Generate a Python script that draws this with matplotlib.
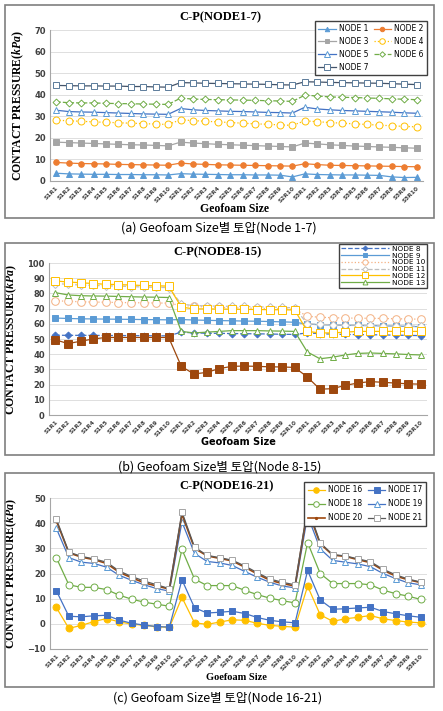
import matplotlib
matplotlib.use('Agg')
import matplotlib.pyplot as plt
from matplotlib.patches import Rectangle

plt.rcParams['font.family'] = ['DejaVu Sans']
plt.rcParams['mathtext.fontset'] = 'custom'
plt.rcParams['mathtext.it'] = 'Liberation Serif:italic:bold'
plt.rcParams['mathtext.rm'] = 'Liberation Serif:bold'

sizes = ['S1R1', 'S1R2', 'S1R3', 'S1R4', 'S1R5', 'S1R6', 'S1R7', 'S1R8', 'S1R9', 'S1R10',
         'S2R1', 'S2R2', 'S2R3', 'S2R4', 'S2R5', 'S2R6', 'S2R7', 'S2R8', 'S2R9', 'S2R10',
         'S3R1', 'S3R2', 'S3R3', 'S3R4', 'S3R5', 'S3R6', 'S3R7', 'S3R8', 'S3R9', 'S3R10']

# (a) nodes 1-7
node1 = [3.6, 3.3, 3.2, 3.1, 3.1, 3.0, 3.0, 2.9, 2.9, 2.8,
         3.4, 3.2, 3.1, 3.0, 2.9, 2.9, 2.8, 2.8, 2.7, 1.9,
         3.3, 3.0, 2.9, 2.8, 2.8, 2.7, 2.6, 1.9, 1.6, 1.7]
node2 = [8.6, 8.3, 8.1, 8.0, 7.9, 7.7, 7.6, 7.5, 7.4, 7.3,
         8.3, 7.9, 7.7, 7.5, 7.4, 7.3, 7.2, 7.1, 7.0, 6.9,
         8.0, 7.6, 7.3, 7.2, 7.1, 7.0, 6.9, 6.8, 6.7, 6.6]
node3 = [18.0, 17.8, 17.6, 17.4, 17.2, 17.0, 16.8, 16.7, 16.5, 16.3,
         18.0, 17.6, 17.3, 17.0, 16.8, 16.6, 16.4, 16.2, 16.0, 15.8,
         17.6, 17.2, 16.8, 16.5, 16.2, 16.0, 15.8, 15.6, 15.4, 15.2]
node4 = [28.2, 27.9, 27.7, 27.4, 27.2, 27.0, 26.8, 26.6, 26.4, 26.2,
         28.4, 28.0, 27.7, 27.4, 27.1, 26.8, 26.5, 26.3, 26.0, 25.8,
         27.9, 27.5, 27.1, 26.8, 26.5, 26.2, 25.9, 25.6, 25.3, 25.1]
node5 = [32.8, 32.2, 32.0, 31.9, 31.7, 31.5, 31.3, 31.1, 31.0, 30.9,
         33.6, 33.0, 32.7, 32.5, 32.3, 32.2, 32.0, 31.8, 31.7, 31.5,
         34.2, 33.4, 33.0, 32.7, 32.5, 32.3, 32.1, 31.9, 31.6, 31.4]
node6 = [36.7, 36.3, 36.2, 36.2, 36.0, 35.9, 35.8, 35.7, 35.6, 35.5,
         38.4, 38.0, 37.8, 37.7, 37.6, 37.5, 37.4, 37.2, 37.1, 36.9,
         39.8, 39.4, 39.0, 38.8, 38.7, 38.5, 38.3, 38.1, 37.9, 37.7]
node7 = [44.3, 44.2, 44.1, 44.1, 44.0, 44.0, 43.8, 43.8, 43.6, 43.5,
         45.6, 45.5, 45.3, 45.2, 45.1, 45.0, 44.9, 44.8, 44.6, 44.5,
         46.0, 45.9, 45.7, 45.6, 45.5, 45.4, 45.3, 45.1, 44.9, 44.7]

# (b) nodes 8-15
node8 = [52.5, 52.4, 52.4, 52.4, 52.3, 52.3, 52.2, 52.2, 52.1, 52.1,
         54.5, 54.0, 53.8, 53.7, 53.6, 53.5, 53.4, 53.3, 53.1, 53.0,
         54.0, 53.5, 53.2, 53.0, 52.9, 52.8, 52.7, 52.5, 52.4, 52.2]
node9 = [63.8, 63.5, 63.3, 63.2, 63.1, 63.0, 62.9, 62.8, 62.7, 62.6,
         62.8, 62.5, 62.3, 62.1, 62.0, 61.8, 61.7, 61.5, 61.3, 61.0,
         59.8, 59.4, 59.2, 59.0, 58.9, 58.8, 58.6, 58.5, 58.3, 58.1]
node10 = [75.2, 74.8, 74.5, 74.3, 74.2, 74.0, 73.9, 73.8, 73.7, 73.6,
          72.0, 71.5, 71.0, 70.8, 70.6, 70.4, 70.2, 70.0, 69.8, 69.6,
          65.0, 64.3, 64.0, 63.8, 63.7, 63.6, 63.5, 63.3, 63.2, 63.0]
node11 = [86.5, 86.0, 85.5, 85.2, 85.0, 84.8, 84.5, 84.2, 84.0, 83.8,
          73.0, 72.0, 71.8, 71.6, 71.5, 71.4, 71.2, 71.0, 70.8, 70.5,
          60.0, 59.6, 59.4, 59.2, 59.0, 58.9, 58.8, 58.6, 58.5, 58.3]
node12 = [88.2, 87.5, 87.0, 86.5, 86.0, 85.8, 85.5, 85.2, 85.0, 84.8,
          71.0, 69.8, 69.8, 69.7, 69.6, 69.5, 69.4, 69.3, 69.2, 69.1,
          55.0, 54.0, 54.0, 54.5, 55.0, 55.0, 55.0, 55.0, 55.0, 55.0]
node13 = [80.5, 79.0, 78.5, 78.3, 78.2, 78.0, 77.8, 77.6, 77.5, 77.3,
          55.0, 54.0, 54.5, 55.0, 55.5, 55.5, 55.5, 55.3, 55.2, 55.0,
          41.5, 37.0, 38.0, 39.5, 40.5, 40.8, 40.5, 40.2, 39.8, 39.5]
node14 = [49.5, 47.0, 48.5, 50.0, 51.0, 51.0, 51.0, 51.0, 51.0, 51.0,
          32.0, 27.0, 28.0, 30.5, 32.0, 32.2, 32.0, 31.7, 31.6, 31.3,
          25.0, 17.0, 17.3, 19.5, 21.0, 22.0, 21.5, 21.0, 20.5, 20.3]

# (c) nodes 16-21
node16 = [6.5, -1.8, -0.6, 0.9, 2.1, 0.8, -0.1, -0.6, -1.1, -1.4,
          10.5, 0.4, -0.2, 0.7, 1.6, 1.4, 0.2, -0.6, -1.0, -1.3,
          15.0, 3.6, 1.0, 2.0, 2.6, 3.3, 2.0, 1.3, 0.7, 0.4]
node17 = [13.2, 3.0, 2.8, 3.2, 3.4, 1.5, 0.2, -0.5, -1.1, -1.3,
          17.5, 6.4, 4.3, 4.6, 5.0, 4.1, 2.5, 1.4, 0.8, 0.4,
          21.2, 9.5, 5.8, 6.0, 6.3, 6.6, 4.9, 4.0, 3.2, 2.6]
node18 = [26.3, 15.5, 14.5, 14.5, 13.6, 11.4, 9.8, 8.6, 7.8, 7.0,
          29.6, 17.8, 15.2, 15.2, 15.2, 13.3, 11.6, 10.2, 9.2, 8.3,
          32.3, 20.0, 16.0, 16.0, 16.0, 15.5, 13.4, 12.0, 11.0, 9.7]
node19 = [38.0, 26.3, 24.5, 24.0, 22.5, 19.3, 17.3, 15.5, 14.0, 13.0,
          40.5, 28.0, 24.8, 24.2, 23.2, 20.8, 18.5, 16.5, 15.0, 14.3,
          43.0, 29.8, 25.2, 24.5, 23.8, 22.7, 20.0, 18.0, 16.3, 15.5]
node20 = [41.0, 28.2, 26.5, 25.5, 24.0, 20.5, 18.3, 16.3, 15.0, 13.8,
          43.5, 30.0, 27.0, 26.0, 25.0, 22.5, 19.8, 17.3, 16.0, 15.0,
          45.5, 31.8, 27.3, 26.8, 25.5, 24.3, 21.3, 19.0, 17.5, 16.4]
node21 = [41.7, 28.5, 26.8, 25.8, 24.5, 21.0, 18.8, 17.0, 15.5, 14.0,
          44.5, 30.5, 27.2, 26.3, 25.3, 23.0, 20.3, 17.8, 16.5, 15.5,
          46.5, 32.2, 27.5, 27.0, 25.8, 24.7, 21.7, 19.5, 17.8, 16.6]

W, H = 443, 711
fig = plt.figure(figsize=(W / 100, H / 100), dpi=100)
fig.patch.set_facecolor('white')

x = list(range(len(sizes)))


def fx(px):
    return px / W


def fy(py):
    return 1 - py / H


def style_axes(ax, ymin, ymax, step):
    ax.set_xlim(-0.5, len(sizes) - 0.5)
    ax.set_ylim(ymin, ymax)
    ax.set_yticks(range(ymin, ymax + 1, step))
    ax.yaxis.grid(True, color='#D9D9D9', linewidth=0.6)
    ax.set_axisbelow(True)
    for s in ['top', 'right']:
        ax.spines[s].set_visible(False)
    ax.spines['left'].set_color('#A6A6A6')
    ax.spines['bottom'].set_color('#A6A6A6')
    ax.tick_params(length=0, pad=3)
    ax.set_xticks(x)
    ax.set_xticklabels(sizes, rotation=45, ha='right', rotation_mode='anchor',
                       fontsize=4.2, fontweight='bold', color='#404040')
    for lab in ax.get_yticklabels():
        lab.set_fontsize(6)
        lab.set_fontweight('bold')
        lab.set_color('#404040')
    ax.set_ylabel(r'CONTACT PRESSURE($\mathit{kPa}$)', family='Liberation Serif',
                  fontweight='bold', fontsize=8.5, labelpad=6)


def plot_node(ax, y, color, marker, ls='-', filled=True, ms=4, label=None, mec=None, lw=0.9):
    ax.plot(x, y, color=color, linestyle=ls, linewidth=lw, marker=marker, markersize=ms,
            markerfacecolor=(mec or color) if filled else 'white',
            markeredgecolor=mec or color, markeredgewidth=0.7, label=label)


# panel borders
for top, bot in [(5, 218), (243, 455), (473, 687)]:
    fig.patches.append(Rectangle((fx(5), fy(bot)), fx(434) - fx(5), fy(top) - fy(bot),
                                 transform=fig.transFigure, fill=False,
                                 edgecolor='#7F7F7F', linewidth=1.2))

# ---- (a)
ax1 = fig.add_axes([fx(50), fy(181), fx(423) - fx(50), fy(30) - fy(181)])
plot_node(ax1, node1, '#5B9BD5', '^', label='NODE 1')
plot_node(ax1, node2, '#ED7D31', 'o', label='NODE 2')
plot_node(ax1, node3, '#A5A5A5', 's', label='NODE 3')
plot_node(ax1, node4, '#FFC000', 'o', ls=':', filled=False, ms=5, label='NODE 4')
plot_node(ax1, node5, '#4472C4', '^', filled=False, ms=5, mec='#5B9BD5', label='NODE 5')
plot_node(ax1, node6, '#70AD47', 'D', ls='--', filled=False, ms=3.5, label='NODE 6')
plot_node(ax1, node7, '#44546A', 's', filled=False, ms=5, mec='#5B7B9A', label='NODE 7')
style_axes(ax1, 0, 70, 10)
h, l = ax1.get_legend_handles_labels()
order = [0, 2, 4, 6, 1, 3, 5]
ax1.legend([h[i] for i in order], [l[i] for i in order], ncol=2, loc='upper right',
           bbox_to_anchor=(fx(431), fy(17)), bbox_transform=fig.transFigure,
           fontsize=5.5, fancybox=False, edgecolor='#404040', framealpha=1,
           handlelength=2.3, columnspacing=0.7, labelspacing=0.5, borderpad=0.45,
           handletextpad=0.4, markerscale=0.8)
fig.text(fx(220), fy(17), 'C-P(NODE1-7)', ha='center', va='center',
         family='Liberation Serif', fontweight='bold', fontsize=9)
fig.text(fx(235), fy(209), 'Geofoam Size', ha='center', va='center',
         family='Liberation Serif', fontweight='bold', fontsize=8.5)
fig.text(fx(219), fy(228), '(a) Geofoam Size별 토압(Node 1-7)', ha='center', va='center',
         family=['Noto Sans CJK KR'], fontsize=9)

# ---- (b)
ax2 = fig.add_axes([fx(49), fy(415), fx(427) - fx(49), fy(263) - fy(415)])
plot_node(ax2, node8, '#4472C4', 'D', ls='--', ms=3.5, label='NODE 8')
plot_node(ax2, node9, '#5B9BD5', 's', ms=5, label='NODE 9')
plot_node(ax2, node10, '#F4B183', 'o', ls=':', filled=False, ms=5.5, label='NODE 10')
plot_node(ax2, node11, '#BFBFBF', 'D', ls='--', filled=False, ms=4, label='NODE 11')
plot_node(ax2, node12, '#FFC000', 's', filled=False, ms=5.5, label='NODE 12')
plot_node(ax2, node13, '#70AD47', '^', filled=False, ms=5, label='NODE 13')
plot_node(ax2, node14, '#9E480E', 's', ms=5.5)
style_axes(ax2, 0, 100, 10)
ax2.legend(loc='upper right', bbox_to_anchor=(fx(427), fy(244)), bbox_transform=fig.transFigure,
           fontsize=5.3, fancybox=False, edgecolor='#404040', framealpha=1,
           handlelength=6.5, labelspacing=0.08, borderpad=0.25, handletextpad=0.4,
           markerscale=0.7, borderaxespad=0)
fig.text(fx(218), fy(252), 'C-P(NODE8-15)', ha='center', va='center',
         family='Liberation Serif', fontweight='bold', fontsize=9)
fig.text(fx(238), fy(442), 'Geofoam Size', ha='center', va='center',
         fontweight='bold', fontsize=7)
fig.text(fx(220), fy(467), '(b) Geofoam Size별 토압(Node 8-15)', ha='center', va='center',
         family=['Noto Sans CJK KR'], fontsize=9)

# ---- (c)
ax3 = fig.add_axes([fx(50), fy(649), fx(427) - fx(50), fy(498) - fy(649)])
plot_node(ax3, node16, '#FFC000', 'o', ms=5, label='NODE 16')
plot_node(ax3, node17, '#4472C4', 's', ms=5, label='NODE 17')
plot_node(ax3, node18, '#70AD47', 'o', filled=False, ms=5, label='NODE 18')
plot_node(ax3, node19, '#4472C4', '^', filled=False, ms=5, mec='#5B9BD5', label='NODE 19')
plot_node(ax3, node20, '#9E480E', 'o', ms=2, label='NODE 20', lw=1.2)
plot_node(ax3, node21, '#595959', 's', filled=False, ms=5, mec='#A5A5A5', label='NODE 21')
style_axes(ax3, -10, 50, 10)
h, l = ax3.get_legend_handles_labels()
order = [0, 2, 4, 1, 3, 5]
ax3.legend([h[i] for i in order], [l[i] for i in order], ncol=2, loc='upper right',
           bbox_to_anchor=(fx(430), fy(478)), bbox_transform=fig.transFigure,
           fontsize=5.5, fancybox=False, edgecolor='#404040', framealpha=1,
           handlelength=2.3, columnspacing=0.7, labelspacing=0.65, borderpad=0.45,
           handletextpad=0.4, markerscale=0.8)
fig.text(fx(227), fy(486), 'C-P(NODE16-21)', ha='center', va='center',
         family='Liberation Serif', fontweight='bold', fontsize=9)
fig.text(fx(236), fy(677), 'Goefoam Size', ha='center', va='center',
         family='Liberation Serif', fontweight='bold', fontsize=7.5)
fig.text(fx(218), fy(698), '(c) Geofoam Size별 토압(Node 16-21)', ha='center', va='center',
         family=['Noto Sans CJK KR'], fontsize=9)

fig.savefig('out.png', dpi=100, facecolor='white')
